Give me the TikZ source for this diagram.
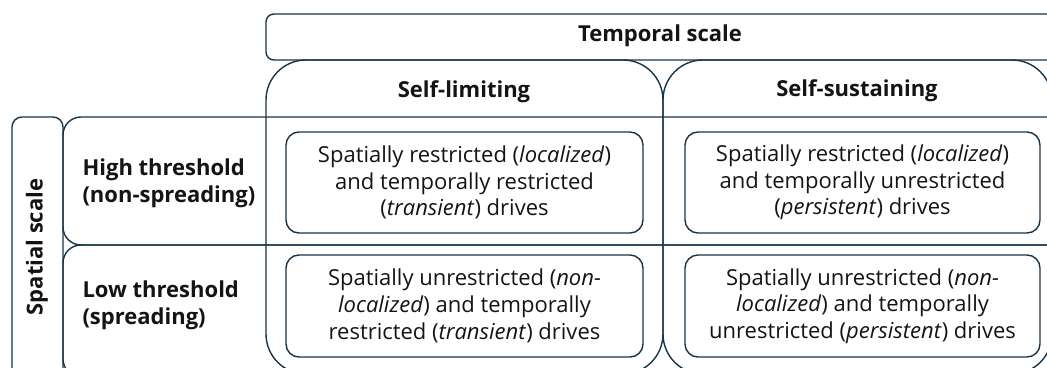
\documentclass[tikz,border=0pt]{standalone}
\usepackage{fontspec}
\setmainfont{Open Sans}
\definecolor{linec}{RGB}{24,52,72}
\definecolor{textc}{RGB}{20,20,20}
\tikzset{
  frame/.style={draw=linec, line width=1.4pt},
  cellbox/.style={frame, rounded corners=13pt},
  celltext/.style={text=textc, align=center, font=\fontsize{22}{26.7}\selectfont},
  headtext/.style={text=textc, font=\fontsize{22}{26.7}\selectfont\bfseries},
  rowtext/.style={text=textc, align=left, anchor=west, font=\fontsize{22}{27}\selectfont\bfseries},
}
\begin{document}
\begin{tikzpicture}[x=1pt,y=-1pt]
\useasboundingbox (0,0) rectangle (1047,367);
\clip (0,0) rectangle (1047,367);

% temporal scale header
\draw[frame, rounded corners=8pt] (266,14) rectangle (1062,60);
\node[headtext] (temporal) at (660,36) {Temporal scale};

% columns
\draw[frame, rounded corners=40pt] (266,60) rectangle (663,374);
\draw[frame, rounded corners=40pt] (663,60) rectangle (1052,374);
\node[headtext] (selflim) at (464,92) {Self-limiting};
\node[headtext] (selfsus) at (857,91) {Self-sustaining};

% spatial scale side bar
\draw[frame, rounded corners=10pt] (12,117) rectangle (63,385);
\node[headtext, rotate=90] (spatial) at (37,247) {Spatial scale};

% rows
\draw[frame, rounded corners=18pt] (63,117) rectangle (1066,245);
\draw[frame, rounded corners=18pt] (63,245) rectangle (1066,377);
\node[rowtext] (high) at (79,183) {High threshold\\(non-spreading)};
\node[rowtext] (low) at (79,305) {Low threshold\\(spreading)};

% cells
\draw[cellbox] (286,132) rectangle (643,233);
\node[celltext] (c11) at (464.5,182.5) {Spatially restricted (\textit{localized})\\and temporally restricted\\(\textit{transient}) drives};
\draw[cellbox] (685,132) rectangle (1040,233);
\node[celltext] (c12) at (862.5,182.5) {Spatially restricted (\textit{localized})\\and temporally unrestricted\\(\textit{persistent}) drives};
\draw[cellbox] (286,255) rectangle (643,357);
\node[celltext] (c21) at (464.5,306) {Spatially unrestricted (\textit{non-}\\\textit{localized}) and temporally\\restricted (\textit{transient}) drives};
\draw[cellbox] (685,255) rectangle (1040,357);
\node[celltext] (c22) at (862.5,306) {Spatially unrestricted (\textit{non-}\\\textit{localized}) and temporally\\unrestricted (\textit{persistent}) drives};
\end{tikzpicture}
\end{document}
